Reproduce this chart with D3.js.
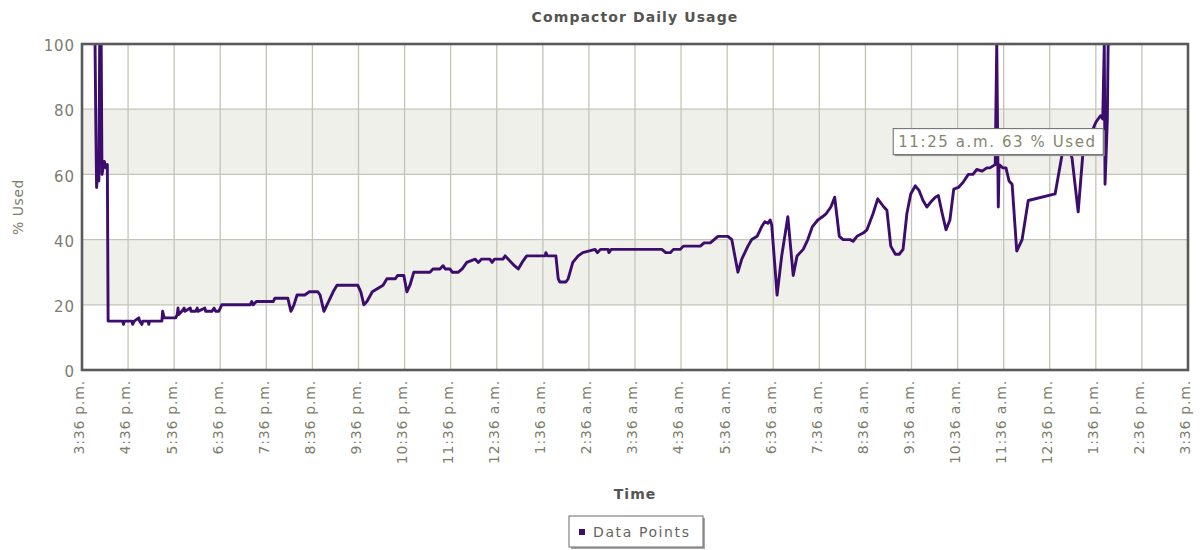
<!DOCTYPE html>
<html>
<head>
<meta charset="utf-8">
<script src="https://cdn.jsdelivr.net/npm/d3@7"></script>
<style>
  html, body { margin: 0; padding: 0; background: #fff; }
  svg { display: block; font-family: "DejaVu Sans", Verdana, sans-serif; }
</style>
</head>
<body>
<svg id="chart" width="1202" height="550"></svg>
<script>
// Compactor fill level over one day, starting 3:36 p.m.
const chartTitle = "Compactor Daily Usage";
const xTitle = "Time";
const yTitle = "% Used";
const seriesName = "Data Points";

// Minutes after the 3:36 p.m. start, and the reported fill level (%)
const minutesAfterStart = [
  17, 18, 19, 21, 22, 23, 25, 26, 29, 31, 33, 34,
  53, 54, 55, 65, 66, 68, 74, 75, 78, 79, 86, 87, 88,
  104, 105, 107, 122, 124, 125, 126, 130, 133, 134, 141, 142, 148, 150, 151,
  160, 161, 169, 172, 174, 178, 182, 219, 221, 223, 227, 249, 251, 268, 272, 276,
  280, 290, 296, 307, 310, 315, 319, 327, 332, 359, 363, 367, 371, 378, 385, 392,
  397, 408, 411, 419, 423, 427, 432, 453, 457, 466, 470, 473, 479, 482, 490, 495,
  501, 512, 516, 520, 531, 534, 537, 548, 551, 555, 563, 568, 573, 579, 603, 604,
  606, 617, 620, 622, 630, 633, 639, 646, 652, 668, 671, 675, 685, 686, 689, 701,
  755, 760, 766, 770, 779, 783, 805, 810, 818, 823, 828, 841, 846, 850, 854, 859,
  867, 872, 879, 885, 889, 893, 896, 898, 905, 911, 919, 926, 931, 939, 945, 951,
  958, 964, 969, 975, 980, 986, 991, 1000, 1004, 1009, 1017, 1022, 1030, 1036, 1044, 1048,
  1053, 1059, 1064, 1069, 1074, 1079, 1085, 1090, 1095, 1100, 1105, 1111, 1115, 1120, 1125, 1130,
  1135, 1141, 1147, 1154, 1160, 1165, 1172, 1178, 1182, 1189, 1191, 1193, 1194, 1199, 1203, 1207,
  1211, 1217, 1224, 1232, 1267, 1276, 1283, 1289, 1297, 1303, 1313, 1320, 1326, 1329, 1331, 1332,
  1335, 1336, 1339
];
const percentUsed = [
  100, 75, 56, 62, 58, 100, 100, 60, 64, 62, 63, 15,
  15, 14, 15, 15, 14, 15, 16, 15, 14, 15, 15, 14, 15,
  15, 18, 16, 16, 17, 19, 17, 18, 19, 18, 19, 18, 18, 19, 18,
  19, 18, 18, 19, 18, 18, 20, 20, 21, 20, 21, 21, 22, 22, 18, 20,
  23, 23, 24, 24, 23, 18, 20, 24, 26, 26, 24, 20, 21, 24, 25, 26,
  28, 28, 29, 29, 24, 26, 30, 30, 31, 31, 32, 31, 31, 30, 30, 31,
  33, 34, 33, 34, 34, 33, 34, 34, 35, 34, 32, 31, 33, 35, 35, 36,
  35, 35, 28, 27, 27, 28, 33, 35, 36, 37, 36, 37, 37, 36, 37, 37,
  37, 36, 36, 37, 37, 38, 38, 39, 39, 40, 41, 41, 40, 35, 30, 34,
  38, 40, 41, 44, 45.5, 45, 46, 44.5, 23, 35, 47, 29, 35, 37, 40, 44,
  46, 47, 48, 50, 53, 41, 40, 40, 39.5, 41, 42, 43, 48, 52.5, 50, 49,
  38, 35.5, 35.5, 37, 48, 54, 56.5, 55, 52, 50, 51.5, 53, 53.5, 48, 43, 46,
  55.5, 56, 57.5, 60, 60, 61.5, 61, 62, 62, 63, 100, 50, 63, 62, 62, 58,
  57, 36.5, 40, 52, 54, 66, 69, 65, 48.5, 66, 72, 76, 78, 77, 100, 57,
  77, 100, 100
];

const yTicks = [0, 20, 40, 60, 80, 100];
const shadedBands = [[20, 40], [60, 80]];
const hourCount = 24;
const hoverMinute = 1189;

const startTime = new Date(2012, 0, 1, 15, 36);
const endTime = d3.timeHour.offset(startTime, hourCount);
const hourTicks = d3.range(hourCount + 1).map(h => d3.timeHour.offset(startTime, h));

const points = minutesAfterStart.map((m, i) => ({
  time: d3.timeMinute.offset(startTime, m),
  value: percentUsed[i]
}));

function clockLabel(d) {
  const h = d.getHours();
  const mm = String(d.getMinutes()).padStart(2, "0");
  return `${h % 12 || 12}:${mm} ${h < 12 ? "a.m." : "p.m."}`;
}

const svg = d3.select("#chart");
const plot = { left: 82, right: 1188, top: 44, bottom: 370 };

const x = d3.scaleTime().domain([startTime, endTime]).range([plot.left, plot.right]);
const y = d3.scaleLinear().domain([0, 100]).range([plot.bottom, plot.top]);

const lineColor = "#3c0d6c";
const gridColor = "#c4c4b8";
const labelColor = "#7d7d6c";

// Alternating background bands
svg.append("g").selectAll("rect").data(shadedBands).join("rect")
  .attr("x", plot.left).attr("width", plot.right - plot.left)
  .attr("y", d => y(d[1])).attr("height", d => y(d[0]) - y(d[1]))
  .attr("fill", "#f0f0eb");

// Grid lines
svg.append("g").selectAll("line").data(yTicks).join("line")
  .attr("x1", plot.left).attr("x2", plot.right)
  .attr("y1", d => y(d)).attr("y2", d => y(d))
  .attr("stroke", gridColor).attr("stroke-width", 1.3);
svg.append("g").selectAll("line").data(hourTicks).join("line")
  .attr("x1", d => x(d)).attr("x2", d => x(d))
  .attr("y1", plot.top).attr("y2", plot.bottom)
  .attr("stroke", gridColor).attr("stroke-width", 1.3);

// Y axis tick labels
const yAxis = svg.append("g")
  .attr("transform", `translate(${plot.left - 7},0)`)
  .call(d3.axisLeft(y).tickValues(yTicks).tickSize(0).tickPadding(0));
yAxis.select(".domain").remove();
yAxis.selectAll("text")
  .attr("fill", labelColor)
  .attr("font-size", 15)
  .attr("letter-spacing", 0.9)
  .attr("font-family", "DejaVu Sans, sans-serif")
  .attr("dy", "0.45em");

// X axis tick labels (vertical)
const xAxis = svg.append("g")
  .attr("transform", `translate(0,${plot.bottom})`)
  .call(d3.axisBottom(x).tickValues(hourTicks).tickFormat(clockLabel).tickSize(0));
xAxis.select(".domain").remove();
xAxis.selectAll("text")
  .attr("fill", labelColor)
  .attr("font-size", 14)
  .attr("letter-spacing", 0.8)
  .attr("font-family", "DejaVu Sans, sans-serif")
  .attr("text-anchor", "end")
  .attr("transform", "rotate(-90)")
  .attr("x", -10)
  .attr("y", -3)
  .attr("dy", "0.35em");

// Data line
svg.append("clipPath").attr("id", "plot-clip")
  .append("rect")
  .attr("x", plot.left).attr("y", plot.top)
  .attr("width", plot.right - plot.left).attr("height", plot.bottom - plot.top);

const line = d3.line().x(d => x(d.time)).y(d => y(d.value));
svg.append("path")
  .datum(points)
  .attr("clip-path", "url(#plot-clip)")
  .attr("d", line)
  .attr("fill", "none")
  .attr("stroke", lineColor)
  .attr("stroke-width", 2.9)
  .attr("stroke-linejoin", "round");

// Plot frame
svg.append("rect")
  .attr("x", plot.left).attr("y", plot.top)
  .attr("width", plot.right - plot.left).attr("height", plot.bottom - plot.top)
  .attr("fill", "none").attr("stroke", "#5a5a5a").attr("stroke-width", 2.6);

// Titles
svg.append("text")
  .attr("x", (plot.left + plot.right) / 2).attr("y", 22)
  .attr("text-anchor", "middle")
  .attr("font-size", 14).attr("font-weight", "bold").attr("letter-spacing", 1.1)
  .attr("fill", "#555550")
  .text(chartTitle);

svg.append("text")
  .attr("x", (plot.left + plot.right) / 2).attr("y", 499)
  .attr("text-anchor", "middle")
  .attr("font-size", 14).attr("font-weight", "bold").attr("letter-spacing", 1)
  .attr("fill", "#555550")
  .text(xTitle);

svg.append("text")
  .attr("transform", `translate(23,${(plot.top + plot.bottom) / 2}) rotate(-90)`)
  .attr("text-anchor", "middle")
  .attr("font-size", 14).attr("letter-spacing", 0.5)
  .attr("fill", labelColor)
  .text(yTitle);

// Hover tooltip on the 11:25 a.m. reading
const hovered = points.find(p => +p.time === +d3.timeMinute.offset(startTime, hoverMinute));
const tipW = 210, tipH = 26;
const tipX = x(hovered.time) - tipW / 2 + 3;
const tipY = y(hovered.value) - 10 - tipH;
const tip = svg.append("g");
tip.append("rect")
  .attr("x", tipX + 1.5).attr("y", tipY + 1.5)
  .attr("width", tipW).attr("height", tipH)
  .attr("fill", "#9a9a9a");
tip.append("rect")
  .attr("x", tipX).attr("y", tipY)
  .attr("width", tipW).attr("height", tipH)
  .attr("fill", "#fff").attr("stroke", "#6a6a6a").attr("stroke-width", 1);
tip.append("text")
  .attr("x", tipX + 5).attr("y", tipY + tipH / 2)
  .attr("dy", "0.36em")
  .attr("font-size", 15).attr("letter-spacing", 1.6)
  .attr("fill", "#86866f")
  .text(`${clockLabel(hovered.time)} ${hovered.value} % Used`);

// Legend
const legend = svg.append("g").attr("transform", "translate(569,516)");
legend.append("rect")
  .attr("x", 2).attr("y", 2).attr("width", 134).attr("height", 31)
  .attr("fill", "#a8a8a8");
legend.append("rect")
  .attr("x", 0).attr("y", 0).attr("width", 134).attr("height", 31)
  .attr("fill", "#fff").attr("stroke", "#6a6a6a").attr("stroke-width", 1);
legend.append("rect")
  .attr("x", 10).attr("y", 13).attr("width", 6).attr("height", 6)
  .attr("fill", lineColor);
legend.append("text")
  .attr("x", 24).attr("y", 16).attr("dy", "0.36em")
  .attr("font-size", 14).attr("letter-spacing", 1.6)
  .attr("fill", "#66665c")
  .text(seriesName);
</script>
</body>
</html>
